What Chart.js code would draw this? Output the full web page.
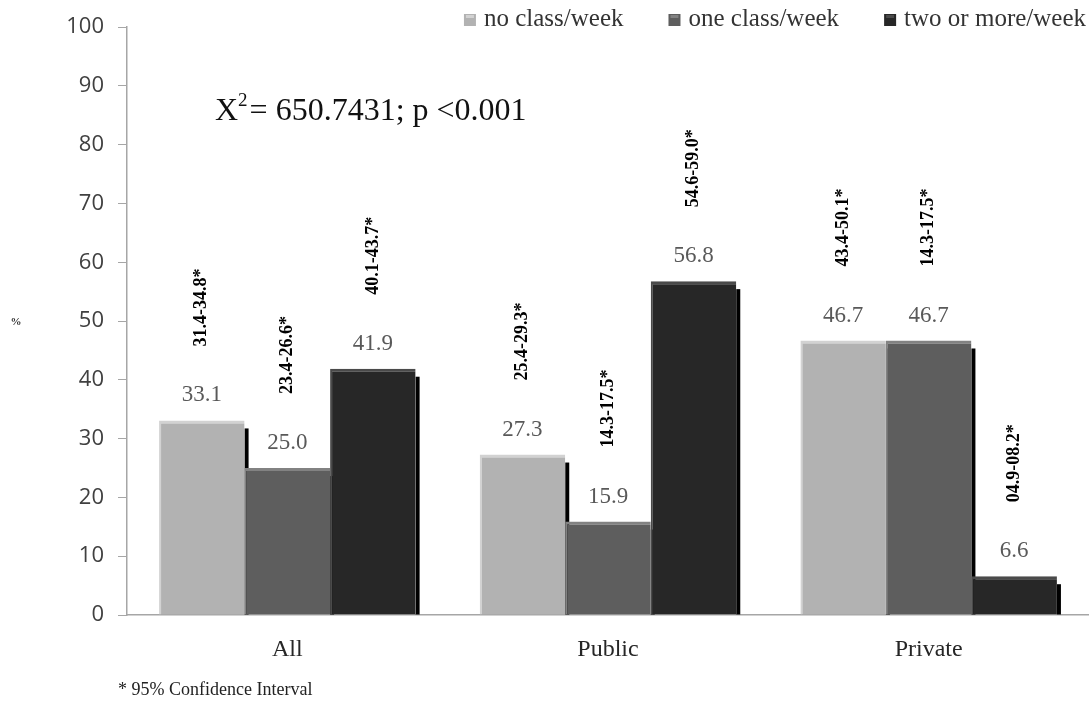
<!DOCTYPE html>
<html lang="en">
<head>
    <meta charset="UTF-8">
    <title>Classes per week</title>
    <style>
        body {
            margin: 0;
            padding: 0;
            background-color: #ffffff;
        }
        .wrap {
            position: relative;
            width: 1089px;
            height: 706px;
        }
    </style>
    <script src="https://cdn.jsdelivr.net/npm/chart.js"></script>
</head>
<body>
    <div class="wrap">
        <canvas id="classChart"></canvas>
    </div>

    <script>
        // Data
        var categories = ['All', 'Public', 'Private'];
        var seriesNames = ['no class/week', 'one class/week', 'two or more/week'];
        var noClass = [33.1, 27.3, 46.7];
        var oneClass = [25.0, 15.9, 46.7];
        var twoOrMore = [41.9, 56.8, 6.6];
        var ciNoClass = ['31.4-34.8*', '25.4-29.3*', '43.4-50.1*'];
        var ciOneClass = ['23.4-26.6*', '14.3-17.5*', '14.3-17.5*'];
        var ciTwoOrMore = ['40.1-43.7*', '54.6-59.0*', '04.9-08.2*'];
        var yTicks = [0, 10, 20, 30, 40, 50, 60, 70, 80, 90, 100];
        var statText = '650.7431; p <0.001';
        var footnote = '* 95% Confidence Interval';

        var fills = ['#b2b2b2', '#5e5e5e', '#272727'];
        var bevels = ['#d2d2d2', '#828282', '#4a4a4a'];
        var ciLists = [ciNoClass, ciOneClass, ciTwoOrMore];
        var serif = '"Liberation Serif", "DejaVu Serif", serif';

        // black drop shadow on the right side of each bar
        var shadowPlugin = {
            id: 'barShadow',
            beforeDatasetsDraw: function (chart) {
                var ctx = chart.ctx;
                ctx.save();
                ctx.fillStyle = '#000000';
                chart.data.datasets.forEach(function (ds, i) {
                    chart.getDatasetMeta(i).data.forEach(function (bar) {
                        var right = bar.x + bar.width / 2;
                        ctx.fillRect(right, bar.y + 8, 4, bar.base - bar.y - 8);
                    });
                });
                ctx.restore();
            }
        };

        // value labels, confidence intervals, legend and other texts
        var textPlugin = {
            id: 'texts',
            afterDatasetsDraw: function (chart) {
                var ctx = chart.ctx;
                ctx.save();
                chart.data.datasets.forEach(function (ds, i) {
                    chart.getDatasetMeta(i).data.forEach(function (bar, j) {
                        ctx.fillStyle = '#595959';
                        ctx.font = '23px ' + serif;
                        ctx.textAlign = 'center';
                        ctx.textBaseline = 'middle';
                        ctx.fillText(ds.data[j].toFixed(1), bar.x, bar.y - 25);

                        ctx.save();
                        ctx.translate(bar.x, bar.y - 74);
                        ctx.rotate(-Math.PI / 2);
                        ctx.fillStyle = '#000000';
                        ctx.font = 'bold 18px ' + serif;
                        ctx.textAlign = 'left';
                        ctx.textBaseline = 'middle';
                        ctx.fillText(ciLists[i][j], 0, 0);
                        ctx.restore();
                    });
                });
                ctx.restore();
            },
            afterDraw: function (chart) {
                var ctx = chart.ctx;
                ctx.save();

                // legend, right aligned
                ctx.font = '25px ' + serif;
                ctx.textBaseline = 'middle';
                ctx.textAlign = 'left';
                var x = 1086;
                var positions = [];
                for (var k = seriesNames.length - 1; k >= 0; k--) {
                    var w = ctx.measureText(seriesNames[k]).width;
                    var tx = x - w;
                    var bx = tx - 20;
                    positions[k] = { tx: tx, bx: bx };
                    x = bx - 45;
                }
                positions.forEach(function (p, k) {
                    ctx.fillStyle = fills[k];
                    ctx.fillRect(p.bx, 14, 12, 12);
                    ctx.fillStyle = bevels[k];
                    ctx.fillRect(p.bx + 2, 15, 8, 3);
                    ctx.fillStyle = '#333333';
                    ctx.fillText(seriesNames[k], p.tx, 19);
                });

                // chi-square annotation
                ctx.fillStyle = '#111111';
                ctx.font = '32px ' + serif;
                ctx.textBaseline = 'alphabetic';
                ctx.fillText('X', 215, 120);
                var xw = ctx.measureText('X').width;
                ctx.font = '19px ' + serif;
                ctx.fillText('2', 215 + xw, 106);
                var sw = ctx.measureText('2').width;
                ctx.font = '32px ' + serif;
                ctx.fillText('= ' + statText, 215 + xw + sw + 2, 120);

                // axis title
                ctx.font = 'bold 11px ' + serif;
                ctx.fillStyle = '#333333';
                ctx.textAlign = 'center';
                ctx.textBaseline = 'middle';
                ctx.fillText('%', 16, 322);

                // footnote
                ctx.font = '18px ' + serif;
                ctx.textAlign = 'left';
                ctx.fillStyle = '#222222';
                ctx.fillText(footnote, 118, 690);

                ctx.restore();
            }
        };

        var datasets = [noClass, oneClass, twoOrMore].map(function (values, i) {
            return {
                label: seriesNames[i],
                data: values,
                backgroundColor: fills[i],
                borderColor: bevels[i],
                borderWidth: { top: 3, left: 2, right: 0, bottom: 0 },
                borderSkipped: false
            };
        });

        var ctxClass = document.getElementById('classChart').getContext('2d');
        var classChart = new Chart(ctxClass, {
            type: 'bar',
            data: {
                labels: categories,
                datasets: datasets
            },
            options: {
                responsive: true,
                maintainAspectRatio: false,
                animation: false,
                layout: {
                    padding: { top: 23, right: 0, bottom: 0, left: 0 }
                },
                datasets: {
                    bar: {
                        categoryPercentage: 0.8,
                        barPercentage: 1.0
                    }
                },
                plugins: {
                    legend: { display: false },
                    tooltip: { enabled: false }
                },
                scales: {
                    x: {
                        grid: { display: false },
                        border: { display: true, color: '#a6a6a6', width: 1.5 },
                        ticks: {
                            color: '#262626',
                            font: { family: serif, size: 24 },
                            padding: 12
                        },
                        afterFit: function (scale) { scale.height = 91; }
                    },
                    y: {
                        min: 0,
                        max: 100,
                        afterBuildTicks: function (scale) {
                            scale.ticks = yTicks.map(function (v) { return { value: v }; });
                        },
                        grid: {
                            display: true,
                            drawOnChartArea: false,
                            drawTicks: true,
                            tickLength: 9,
                            color: '#a6a6a6'
                        },
                        border: { display: true, color: '#a6a6a6', width: 1.5 },
                        ticks: {
                            color: '#404040',
                            font: { family: '"Open Sans", sans-serif', size: 22 },
                            padding: 14
                        },
                        afterFit: function (scale) { scale.width = 127; }
                    }
                }
            },
            plugins: [shadowPlugin, textPlugin]
        });
    </script>
</body>
</html>
